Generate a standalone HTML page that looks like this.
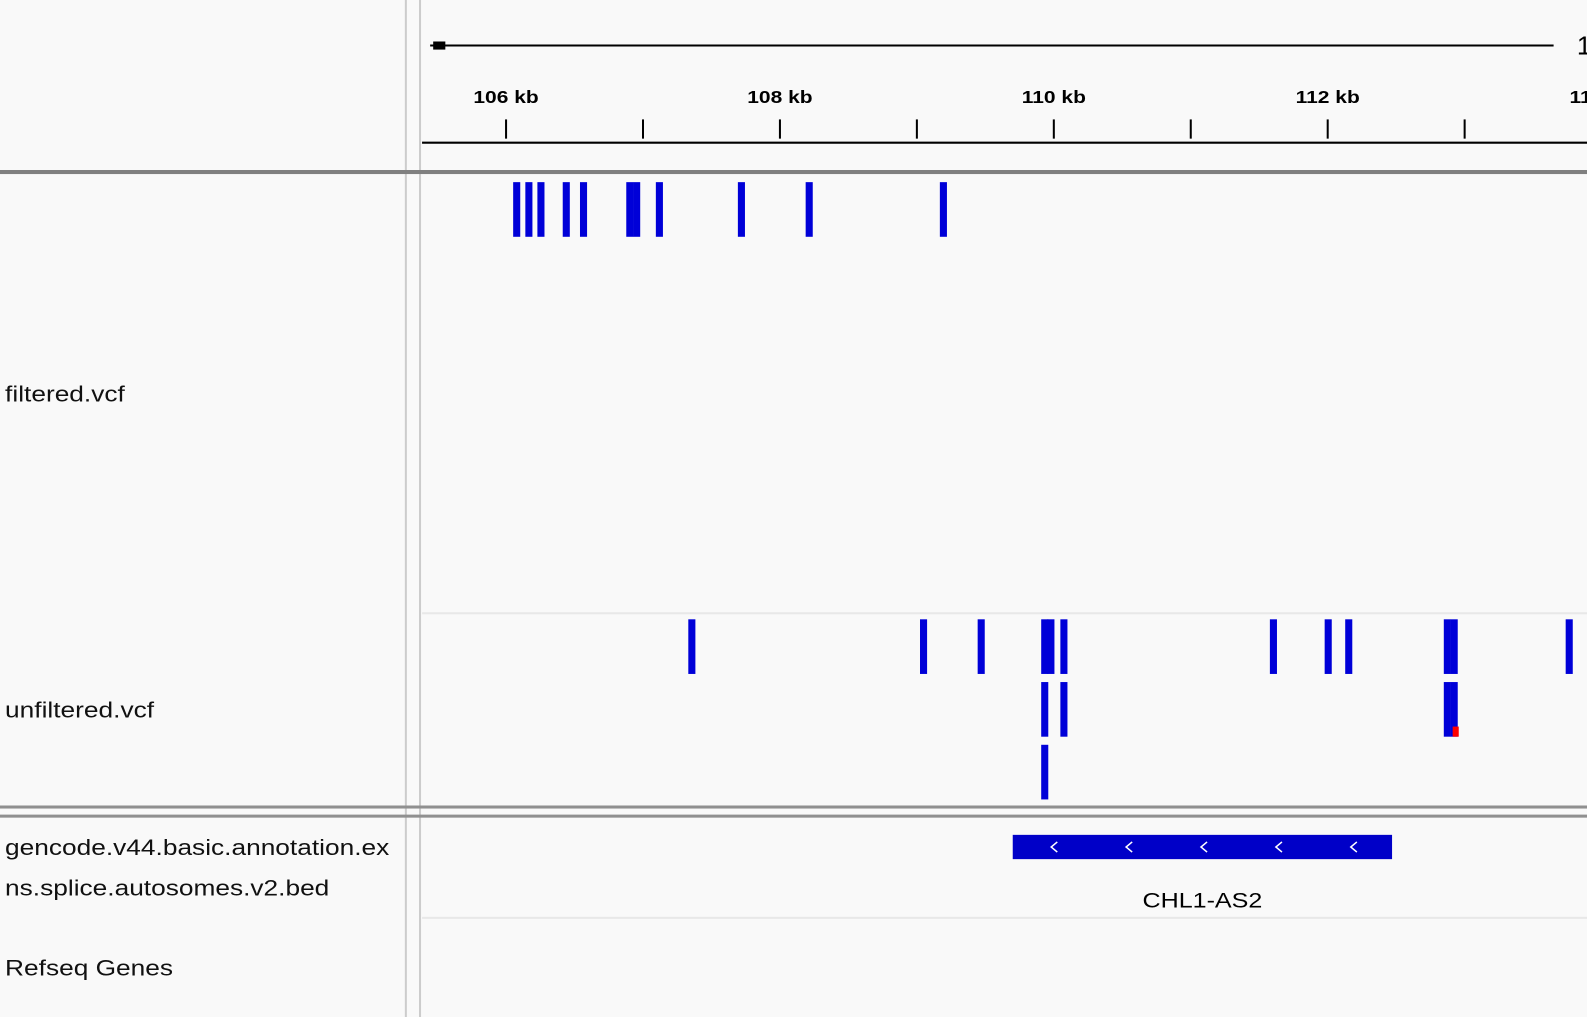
<!DOCTYPE html>
<html><head><meta charset="utf-8"><style>
html,body{margin:0;padding:0;width:1587px;height:1017px;overflow:hidden;background:#f9f9f9;}
#root{position:absolute;left:0;top:0;width:1568px;height:1005px;transform-origin:0 0;transform:scale(1.01212,1.01194);font-family:"Liberation Sans",sans-serif;}
.abs{position:absolute;}
.lbl{position:absolute;left:5px;font-size:22px;color:#111;white-space:nowrap;transform-origin:0 0;transform:scaleX(1.18);}
</style></head><body>
<div id="root">
<div class="abs" style="left:400px;top:0;width:2px;height:1005px;background:#ccc"></div>
<div class="abs" style="left:414px;top:0;width:2px;height:1005px;background:#ccc"></div>
<div class="lbl" style="top:377px">filtered.vcf</div>
<div class="lbl" style="top:689px">unfiltered.vcf</div>
<div class="lbl" style="top:825px">gencode.v44.basic.annotation.ex</div>
<div class="lbl" style="top:865px">ns.splice.autosomes.v2.bed</div>
<div class="lbl" style="top:944px">Refseq Genes</div>
<svg id="chart" class="abs" style="left:0;top:0" width="1568" height="1005"></svg>
</div>
<script>
const tickKb=[106,107,108,109,110,111,112,113,114];
const tickLabels=["106 kb","","108 kb","","110 kb","","112 kb","","114 kb"];
const filteredKb=[106.074,106.163,106.251,106.436,106.562,106.90,106.95,107.116,107.715,108.21,109.19];
const unfilteredKb=[107.353,109.045,109.466,109.93,109.975,110.07,111.6,112.0,112.15,112.87,112.92,113.76,109.93,110.07,112.87,112.92,109.93];
const unfilteredRow=[0,0,0,0,0,0,0,0,0,0,0,0,1,1,1,1,2];
const geneStartKb=109.70, geneEndKb=112.47;
const geneName="CHL1-AS2";
const NS="http://www.w3.org/2000/svg";
const svg=document.getElementById('chart');
function x(kb){return 500+(kb-106)*135.3;}
function mk(t,a,p){const e=document.createElementNS(NS,t);for(const k in a)e.setAttribute(k,a[k]);(p||svg).appendChild(e);return e;}
let e;
e=mk('line',{x1:425,y1:45,x2:1535,y2:45,stroke:'#000','stroke-width':2});


e=mk('rect',{x:428,y:41,width:12,height:8,fill:'#000'});


e=mk('text',{x:1558,y:54,'font-size':26,'font-family':'Liberation Sans, sans-serif'});e.textContent='1';


e=mk('line',{x1:417,y1:141,x2:1568,y2:141,stroke:'#000','stroke-width':2});


tickKb.forEach((k,i)=>{
  const t=mk('line',{x1:x(k),y1:118,x2:x(k),y2:137,stroke:'#000','stroke-width':2});
  
  
  if(tickLabels[i]){
    const l=mk('text',{x:0,y:0,'font-size':17,'font-weight':'bold','text-anchor':'middle','font-family':'Liberation Sans, sans-serif',transform:`translate(${x(k)},102) scale(1.22,1)`});
    l.textContent=tickLabels[i];
    
    
  }
});
e=mk('rect',{x:0,y:168,width:1568,height:4,fill:'#808080'});


e=mk('line',{x1:417,y1:606,x2:1568,y2:606,stroke:'#e8e8e8','stroke-width':2});


e=mk('rect',{x:0,y:796,width:1568,height:3,fill:'#909090'});


e=mk('rect',{x:0,y:805,width:1568,height:3,fill:'#909090'});


e=mk('line',{x1:417,y1:907,x2:1568,y2:907,stroke:'#e8e8e8','stroke-width':2});


filteredKb.forEach(k=>{
  const r=mk('rect',{x:x(k)-3,y:180,width:7,height:54,fill:'#0000d8'});
  
  
});
unfilteredKb.forEach((k,i)=>{
  const r=mk('rect',{x:x(k)-3,y:612+unfilteredRow[i]*62,width:7,height:54,fill:'#0000d8'});
  
  
});
e=mk('rect',{x:x(112.92)-1,y:718,width:6,height:10,fill:'#ff0000'});


const gx1=x(geneStartKb),gx2=x(geneEndKb);
e=mk('rect',{x:gx1,y:825,width:gx2-gx1,height:24,fill:'#0000c8'});


for(let i=0;i<5;i++){
  const cx=gx1+41+i*74;
  const a=mk('polyline',{points:`${cx+3},832 ${cx-3},837 ${cx+3},842`,fill:'none',stroke:'#fff','stroke-width':1.5});
  
  
}
e=mk('text',{x:0,y:0,'font-size':21,'text-anchor':'middle','font-family':'Liberation Sans, sans-serif',transform:`translate(${(gx1+gx2)/2},897) scale(1.18,1)`});
e.textContent=geneName;


</script>
</body></html>
